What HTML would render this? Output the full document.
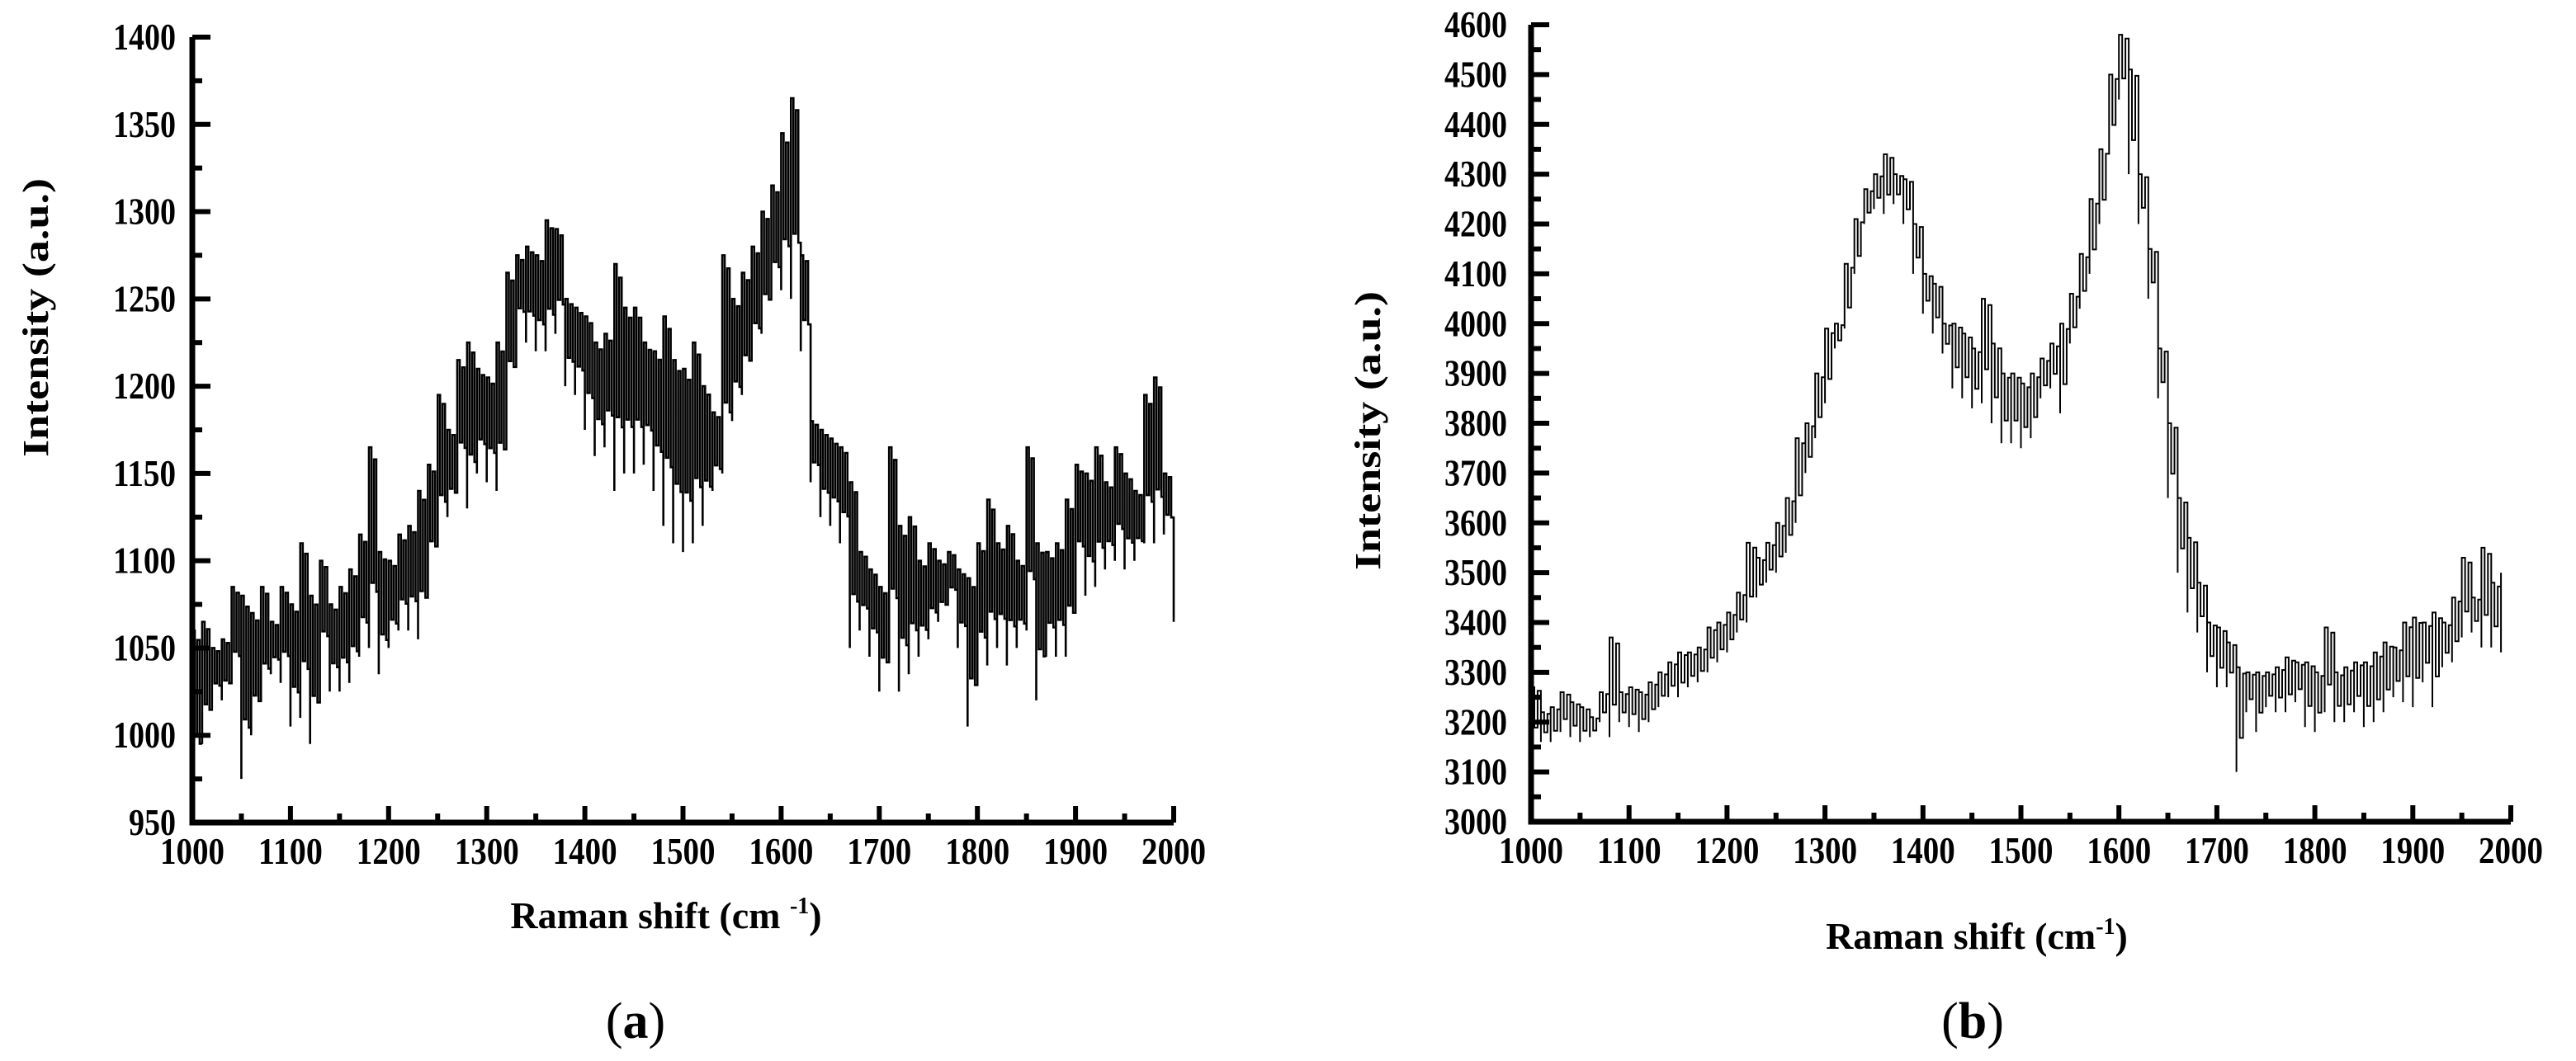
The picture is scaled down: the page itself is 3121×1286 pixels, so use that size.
<!DOCTYPE html>
<html><head><meta charset="utf-8"><style>
html,body{margin:0;padding:0;background:#fff;}
svg{display:block;}
text{font-family:"Liberation Serif",serif;fill:#000;}
</style></head><body>
<svg id="chart" width="3121" height="1286" viewBox="0 0 3121 1286" xmlns="http://www.w3.org/2000/svg">
<g id="pa"></g>
<g id="pb"></g>
</svg>
<script>
// Panel (a) data: Raman shift 1000..2000 step 10, local max/min intensity
const xsA = [];
for (let v = 1000; v <= 2000; v += 10) xsA.push(v);
const hiA = [1060,1065,1050,1055,1085,1080,1070,1085,1065,1085,1075,1110,1080,1100,1075,1085,1095,1115,1165,1105,1100,1115,1120,1140,1155,1195,1175,1215,1225,1210,1205,1225,1265,1275,1280,1275,1295,1290,1250,1245,1240,1225,1230,1270,1245,1245,1225,1220,1240,1215,1210,1225,1200,1185,1275,1250,1265,1280,1300,1315,1345,1365,1275,1180,1175,1170,1165,1145,1105,1095,1085,1165,1120,1125,1100,1110,1100,1105,1095,1090,1110,1135,1110,1120,1100,1165,1110,1105,1110,1135,1155,1150,1165,1145,1165,1150,1140,1195,1205,1150,1120];
const loA = [970,995,1020,1020,1030,975,1000,1020,1035,1030,1005,1010,995,1040,1025,1025,1030,1045,1050,1035,1050,1060,1060,1055,1090,1110,1125,1145,1130,1150,1145,1140,1190,1230,1225,1220,1220,1230,1200,1195,1175,1160,1165,1140,1150,1150,1155,1140,1120,1110,1105,1110,1120,1140,1150,1180,1195,1215,1230,1250,1255,1250,1220,1145,1125,1120,1110,1050,1060,1045,1025,1045,1025,1035,1045,1055,1065,1075,1050,1005,1035,1040,1050,1040,1050,1060,1020,1045,1045,1045,1090,1080,1085,1095,1100,1095,1100,1110,1110,1115,1065];
const yTicksA = [950,1000,1050,1100,1150,1200,1250,1300,1350,1400];
const xTicks = [1000,1100,1200,1300,1400,1500,1600,1700,1800,1900,2000];

// Panel (b) data: 1000..1990 step 10
const xsB = [];
for (let v = 1000; v <= 1990; v += 10) xsB.push(v);
const hiB = [3270,3220,3230,3260,3240,3230,3210,3260,3370,3260,3270,3260,3280,3300,3320,3340,3340,3350,3390,3400,3420,3460,3560,3530,3560,3600,3650,3770,3800,3900,3990,4000,4120,4210,4270,4300,4340,4300,4290,4200,4100,4080,4000,4000,3980,3950,4050,3960,3900,3900,3880,3900,3930,3960,4000,4060,4140,4250,4350,4500,4580,4510,4300,4150,3950,3800,3650,3570,3480,3400,3390,3360,3310,3300,3300,3300,3310,3330,3320,3320,3300,3390,3300,3310,3320,3320,3340,3360,3350,3400,3410,3400,3420,3400,3450,3530,3450,3550,3480,3500];
const loB = [3150,3160,3160,3180,3170,3160,3170,3200,3170,3200,3190,3180,3200,3230,3250,3250,3270,3280,3300,3320,3340,3380,3400,3450,3480,3500,3540,3600,3700,3770,3840,3950,3990,4100,4200,4230,4220,4240,4200,4100,4020,3980,3940,3870,3850,3830,3840,3800,3760,3760,3750,3770,3850,3870,3820,3960,4030,4100,4200,4350,4450,4300,4200,4050,3850,3650,3500,3420,3380,3300,3270,3270,3100,3220,3180,3230,3220,3220,3240,3190,3180,3220,3200,3200,3220,3190,3200,3220,3250,3240,3230,3280,3230,3310,3320,3370,3380,3350,3350,3340];
const yTicksB = [3000,3100,3200,3300,3400,3500,3600,3700,3800,3900,4000,4100,4200,4300,4400,4500,4600];

const NS = "http://www.w3.org/2000/svg";
function mk(parent, tag, attrs, txt) {
  const e = document.createElementNS(NS, tag);
  for (const k in attrs) e.setAttribute(k, attrs[k]);
  if (txt !== undefined) e.textContent = txt;
  parent.appendChild(e);
  return e;
}

function drawPanel(g, cfg) {
  const sx = v => cfg.x0 + (v - cfg.xmin) / (cfg.xmax - cfg.xmin) * (cfg.x1 - cfg.x0);
  const sy = v => cfg.y0 + (v - cfg.ymin) / (cfg.ymax - cfg.ymin) * (cfg.y1 - cfg.y0);
  const fr = [0.3, 0.75, 0.15, 0.6];
  let d = "";
  for (let i = 0; i < cfg.xs.length; i++) {
    const x = sx(cfg.xs[i]);
    const x2 = i < cfg.xs.length - 1 ? sx(cfg.xs[i + 1]) : x;
    const n = cfg.sub;
    const dx = (x2 - x) / n;
    const h = sy(cfg.hi[i]), l = sy(cfg.lo[i]);
    d += (i === 0 ? "M" : "L") + x.toFixed(1) + "," + l.toFixed(1);
    d += "L" + x.toFixed(1) + "," + h.toFixed(1);
    if (i < cfg.xs.length - 1) {
      for (let k = 1; k < n; k++) {
        const yk = h + (l - h) * (k % 2 === 1 ? 0.9 - fr[k % 4] * 0.3 : fr[k % 4] * 0.4);
        d += "L" + (x + k * dx).toFixed(1) + "," + d.slice(d.lastIndexOf(",") + 1);
        d += "L" + (x + k * dx).toFixed(1) + "," + yk.toFixed(1);
      }
      d += "L" + x2.toFixed(1) + "," + d.slice(d.lastIndexOf(",") + 1);
    }
  }
  const line = mk(g, "path", {d: d, fill: "none", stroke: "#000", "stroke-width": cfg.sw, "stroke-linejoin": "miter"});
  
  
  const ax = mk(g, "path", {d: `M${cfg.x0},${sy(cfg.ymax)}L${cfg.x0},${cfg.y0}L${cfg.x1},${cfg.y0}`, fill: "none", stroke: "#000", "stroke-width": 7});
  
  
  const yt = cfg.yTicks;
  const ystep = yt[1] - yt[0];
  for (let i = 0; i < yt.length; i++) {
    const y = sy(yt[i]);
    const t = mk(g, "line", {x1: cfg.x0, x2: cfg.x0 + 22, y1: y, y2: y, stroke: "#000", "stroke-width": 6});
    
    
    if (i < yt.length - 1) {
      const ym = sy(yt[i] + ystep / 2);
      const tm = mk(g, "line", {x1: cfg.x0, x2: cfg.x0 + 12, y1: ym, y2: ym, stroke: "#000", "stroke-width": 6});
      
      
    }
    const s = String(yt[i]);
    const lb = mk(g, "text", {x: cfg.ylabX, y: y + 15, "text-anchor": "end", "font-size": 46, "font-weight": "bold", textLength: 19 * s.length, lengthAdjust: "spacingAndGlyphs"}, s);
    
    
  }
  for (let i = 0; i < xTicks.length; i++) {
    const x = sx(xTicks[i]);
    const t = mk(g, "line", {x1: x, x2: x, y1: cfg.y0, y2: cfg.y0 - 20, stroke: "#000", "stroke-width": 6});
    
    
    if (i < xTicks.length - 1) {
      const xm = sx(xTicks[i] + 50);
      const tm = mk(g, "line", {x1: xm, x2: xm, y1: cfg.y0, y2: cfg.y0 - 11, stroke: "#000", "stroke-width": 6});
      
      
    }
    const lb = mk(g, "text", {x: x, y: cfg.y0 + 50, "text-anchor": "middle", "font-size": 46, "font-weight": "bold", textLength: 78, lengthAdjust: "spacingAndGlyphs"}, String(xTicks[i]));
    
    
  }
  const yt2 = mk(g, "text", {x: 0, y: 0, "text-anchor": "middle", "font-size": 44, "font-weight": "bold", transform: `translate(${cfg.yTitleX},${cfg.yTitleY}) rotate(-90)`, textLength: 338, lengthAdjust: "spacingAndGlyphs"}, "Intensity (a.u.)");
  
  
  const xt = mk(g, "text", {x: cfg.xTitleX, y: cfg.xTitleY, "text-anchor": "middle", "font-size": 46, "font-weight": "bold"});
  
  
  xt.innerHTML = cfg.xTitle;
  const pl = mk(g, "text", {x: cfg.panelX, y: 1258, "text-anchor": "middle", "font-size": 62}, "");
  
  
  pl.innerHTML = '(<tspan font-weight="bold">' + cfg.panel + '</tspan>)';
}

drawPanel(document.getElementById("pa"), {
  xs: xsA, hi: hiA, lo: loA, yTicks: yTicksA, sw: 2.6, sub: 4,
  x0: 233, x1: 1422, xmin: 1000, xmax: 2000,
  y0: 997, y1: 45, ymin: 950, ymax: 1400,
  ylabX: 213, yTitleX: 58, yTitleY: 385,
  xTitleX: 807, xTitleY: 1125, xTitle: 'Raman shift (cm <tspan font-size="28" dy="-18">-1</tspan><tspan dy="18">)</tspan>',
  panelX: 770, panel: "a"
});
drawPanel(document.getElementById("pb"), {
  xs: xsB, hi: hiB, lo: loB, yTicks: yTicksB, sw: 2, sub: 3,
  x0: 1855, x1: 3042, xmin: 1000, xmax: 2000,
  y0: 996, y1: 30, ymin: 3000, ymax: 4600,
  ylabX: 1826, yTitleX: 1672, yTitleY: 522,
  xTitleX: 2395, xTitleY: 1150, xTitle: 'Raman  shift (cm<tspan font-size="28" dy="-18">-1</tspan><tspan dy="18">)</tspan>',
  panelX: 2390, panel: "b"
});
</script>
</body></html>
